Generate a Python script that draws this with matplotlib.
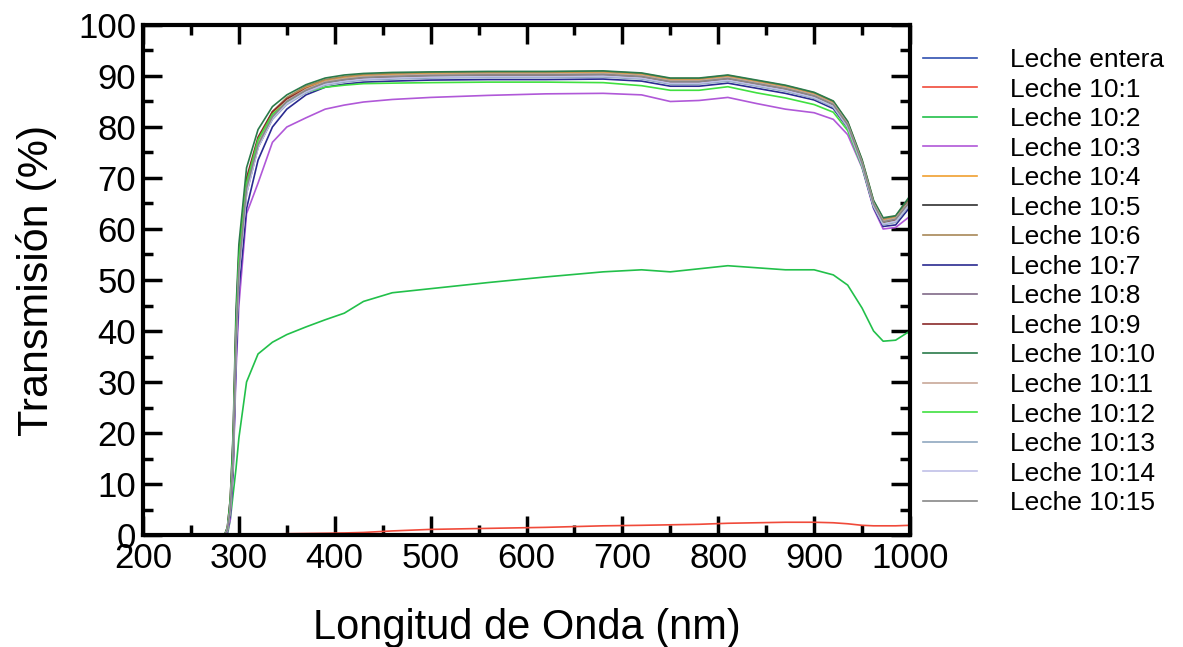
import numpy as np
import matplotlib
matplotlib.use("Agg")
import matplotlib.pyplot as plt
from matplotlib.ticker import MultipleLocator

plt.rcParams['font.family'] = ['Liberation Sans', 'DejaVu Sans']

# wavelength grid (nm)
wl = [200, 280, 285, 288, 291, 294, 297, 300, 308, 320, 335, 350, 370, 390, 410, 430,
      460, 500, 560, 620, 680, 720, 750, 780, 810, 840, 870, 900, 920, 935, 950, 962,
      972, 985, 1000]

entera = [0] * len(wl)
l10_1 = [0, 0, 0, 0, 0, 0.05, 0.05, 0.1, 0.1, 0.15, 0.2, 0.25, 0.3, 0.35, 0.4, 0.5,
         0.8, 1.1, 1.3, 1.5, 1.8, 1.9, 2.0, 2.1, 2.3, 2.4, 2.5, 2.5, 2.4, 2.2, 1.9, 1.8,
         1.8, 1.8, 1.9]
l10_2 = [0, 0, 0, 0, 3, 8, 13, 19, 30, 35.5, 37.8, 39.3, 40.8, 42.2, 43.5, 45.8,
         47.5, 48.3, 49.5, 50.6, 51.6, 52.0, 51.6, 52.2, 52.8, 52.4, 52.0, 52.0, 51.0, 49.0,
         44.5, 40.0, 38.0, 38.2, 40.0]
l10_3 = [0, 0, 0, 0.5, 3, 12, 32, 45, 63, 69, 77, 80, 81.8, 83.5, 84.3, 84.9,
         85.4, 85.8, 86.2, 86.5, 86.6, 86.3, 85.0, 85.2, 85.8, 84.6, 83.5, 82.8, 81.5, 78.5,
         72, 64, 60, 60.3, 62.5]
l10_4 = [0, 0, 0, 1.2, 5.5, 16, 40, 54, 69, 77.5, 82.8, 85.6, 87.7, 89.1, 89.7, 90.1,
         90.3, 90.5, 90.6, 90.6, 90.7, 90.3, 89.3, 89.3, 89.9, 88.9, 87.9, 86.5, 84.8, 80.8,
         73.3, 65.3, 61.8, 62.3, 65.8]
l10_5 = [0, 0, 0, 1, 5, 15, 38, 52, 68, 76.5, 82, 85, 87.3, 88.8, 89.4, 89.8,
         90.0, 90.2, 90.3, 90.3, 90.4, 90.0, 89.0, 89.0, 89.6, 88.6, 87.6, 86.2, 84.5, 80.5,
         73, 65, 61.5, 62, 66]
l10_6 = [0, 0, 0, 1, 5, 15, 39, 53, 69, 77.5, 83, 85.8, 88, 89.3, 89.9, 90.3,
         90.5, 90.7, 90.8, 90.8, 90.9, 90.5, 89.5, 89.5, 90.1, 89.1, 88.1, 86.7, 85, 81,
         73.5, 65.5, 62, 62.5, 66.3]
l10_7 = [0, 0, 0, 0.8, 4, 13, 34, 48, 64, 73.5, 80, 83.5, 86.3, 87.8, 88.4, 88.8,
         89.0, 89.2, 89.3, 89.3, 89.4, 89.0, 88.0, 88.0, 88.6, 87.6, 86.6, 85.3, 83.6, 79.8,
         72.3, 64.2, 60.5, 60.8, 64.3]
l10_8 = [0, 0, 0, 1, 5, 14, 37, 51, 67, 76, 81.6, 84.7, 87, 88.5, 89.1, 89.5,
         89.7, 89.9, 90, 90, 90.1, 89.7, 88.7, 88.7, 89.3, 88.3, 87.3, 85.9, 84.2, 80.2,
         72.7, 64.7, 61, 61.5, 65.2]
l10_9 = [0, 0, 0, 1.5, 7, 19, 42, 55, 70, 78, 83, 85.5, 87.5, 88.8, 89.3, 89.7,
         89.9, 90.1, 90.2, 90.2, 90.3, 89.9, 88.9, 88.9, 89.5, 88.5, 87.5, 86.1, 84.4, 80.4,
         72.9, 64.9, 61.3, 61.8, 65.5]
l10_10 = [0, 0, 0, 1.5, 7, 20, 44, 57, 72, 79.5, 84, 86.3, 88.3, 89.6, 90.2, 90.5,
          90.7, 90.8, 90.9, 90.9, 91, 90.6, 89.6, 89.6, 90.2, 89.2, 88.2, 86.8, 85.1, 81.1,
          73.6, 65.6, 62.2, 62.6, 66.5]
l10_11 = [0, 0, 0, 1, 5, 15, 38, 52, 68, 76.8, 82.2, 85.1, 87.4, 88.9, 89.5, 89.9,
          90.1, 90.3, 90.4, 90.4, 90.5, 90.1, 89.1, 89.1, 89.7, 88.7, 87.7, 86.3, 84.6, 80.6,
          73.1, 65.1, 61.6, 62.1, 65.6]
l10_12 = [0, 0, 0, 1.2, 6, 17, 40, 54, 69, 77.5, 82.5, 84.8, 86.8, 87.8, 88.2, 88.5,
          88.6, 88.7, 88.8, 88.8, 88.7, 88.1, 87.2, 87.2, 87.9, 86.7, 85.7, 84.4, 82.9, 79.3,
          72.2, 64.5, 61, 61.4, 65]
l10_13 = [0, 0, 0, 1, 5, 15, 37, 51, 67, 76, 81.5, 84.4, 86.7, 88.2, 88.8, 89.2,
          89.4, 89.6, 89.7, 89.7, 89.8, 89.4, 88.4, 88.4, 89, 88, 87, 85.6, 83.9, 79.9,
          72.4, 64.4, 60.8, 61.3, 64.8]
l10_14 = [0, 0, 0, 1, 5, 15, 37, 51, 67, 76, 81.7, 84.6, 86.9, 88.4, 89, 89.4,
          89.6, 89.8, 89.9, 89.9, 90, 89.6, 88.6, 88.6, 89.2, 88.2, 87.2, 85.8, 84.1, 80.1,
          72.6, 64.6, 61, 61.5, 65]
l10_15 = [0, 0, 0, 1, 5, 15, 38, 52, 68, 76.5, 82, 85, 87.2, 88.7, 89.3, 89.7,
          89.9, 90.1, 90.2, 90.2, 90.3, 89.9, 88.9, 88.9, 89.5, 88.5, 87.5, 86.1, 84.4, 80.4,
          72.9, 64.9, 61.4, 61.9, 65.4]

labels = ['Leche entera', 'Leche 10:1', 'Leche 10:2', 'Leche 10:3', 'Leche 10:4',
          'Leche 10:5', 'Leche 10:6', 'Leche 10:7', 'Leche 10:8', 'Leche 10:9',
          'Leche 10:10', 'Leche 10:11', 'Leche 10:12', 'Leche 10:13', 'Leche 10:14',
          'Leche 10:15']
series = [entera, l10_1, l10_2, l10_3, l10_4, l10_5, l10_6, l10_7, l10_8, l10_9,
          l10_10, l10_11, l10_12, l10_13, l10_14, l10_15]
colors = ['#3050b0', '#f04a3a', '#22c04a', '#b058d8', '#f0a030', '#303030', '#a88858',
          '#2a2a90', '#806a88', '#8a2a2a', '#2a7a4a', '#c8a898', '#40e040', '#90a8c0',
          '#c0c0e8', '#888888']

fig = plt.figure(figsize=(11.83, 6.47), dpi=100)
ax = fig.add_axes([143 / 1183, 1 - 535 / 647, 767 / 1183, 510 / 647])

for y, c, lab in zip(series, colors, labels):
    ax.plot(wl, y, color=c, lw=1.2, label=lab)

ax.set_xlim(200, 1000)
ax.set_ylim(0, 100)
ax.xaxis.set_major_locator(MultipleLocator(100))
ax.xaxis.set_minor_locator(MultipleLocator(50))
ax.yaxis.set_major_locator(MultipleLocator(10))
ax.yaxis.set_minor_locator(MultipleLocator(5))
ax.tick_params(which='both', direction='in', top=True, right=True, width=2.5)
ax.tick_params(which='major', length=14, labelsize=25, pad=5)
ax.tick_params(which='minor', length=7.5)
for s in ax.spines.values():
    s.set_linewidth(3)

ax.set_xlabel('Longitud de Onda (nm)', fontsize=30)
ax.set_ylabel('Transmisión (%)', fontsize=31)
ax.xaxis.set_label_coords(0.5, -0.143)
ax.yaxis.set_label_coords(-0.112, 0.5)

ax.legend(loc='upper left', bbox_to_anchor=(923 / 1183, 1 - 48 / 647),
          bbox_transform=fig.transFigure, frameon=False, fontsize=19,
          handlelength=2.05, handletextpad=1.25, labelspacing=0.21, borderpad=0,
          borderaxespad=0)

fig.savefig('out.png', dpi=100)
